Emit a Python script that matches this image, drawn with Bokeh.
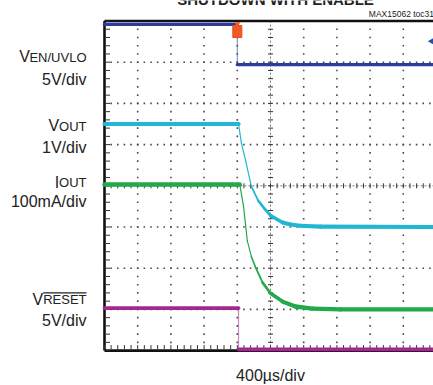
import numpy as np
from bokeh.plotting import figure
from bokeh.models import Range1d, ColumnDataSource
from bokeh.core.properties import value
from bokeh.embed import file_html
from bokeh.resources import INLINE

# ---------------- data (time in µs relative to the EN falling edge) ----------------
title = "SHUTDOWN WITH ENABLE"
doc_id = "MAX15062 toc31"
x_label = "400µs/div"

t_en = [-1600, 0, 0, 2400]
v_en = [4.9, 4.9, 0.0, 0.0]                      # V, 5V/div

t_out = [-1600, 15, 50, 100, 170, 255, 330, 400, 545, 640, 760, 1000, 2400]
v_out = [2.50, 2.50, 2.03, 1.61, 0.98, 0.63, 0.44, 0.28, 0.11, 0.06, 0.03, 0.01, 0.0]   # V, 1V/div

t_io = [-1600, 30, 75, 120, 170, 220, 305, 400, 545, 700, 905, 1245, 2400]
i_io = [0.303, 0.303, 0.250, 0.167, 0.128, 0.102, 0.065, 0.039, 0.019, 0.007, 0.002, 0.0, 0.0]  # A, 100mA/div

t_rst = [-1600, 15, 15, 2400]
v_rst = [5.0, 5.0, 0.0, 0.0]                     # V, 5V/div

main_labels = ["V", "V", "I", "V"]
sub_labels = ["EN/UVLO", "OUT", "OUT", "RESET"]
scale_labels = ["5V/div", "1V/div", "100mA/div", "5V/div"]

# ---------------- scope geometry ----------------
US_PER_DIV = 400.0
PX_X = 33.2     # px per horizontal division
PX_Y = 41.2     # px per vertical division
T_LEFT, T_RIGHT = -1600.0, 2400.0

channels = [
    dict(t=t_en, v=v_en, per_div=5.0, pos=2.94, color="#2b3c9e", thick=3.2),
    dict(t=t_out, v=v_out, per_div=1.0, pos=-1.0, color="#21b7d3", thick=4.2),
    dict(t=t_io, v=i_io, per_div=0.1, pos=-3.0, color="#22a94a", thick=4.4),
    dict(t=t_rst, v=v_rst, per_div=5.0, pos=-3.97, color="#a0288e", thick=3.6),
]

p = figure(width=433, height=385, output_backend="svg", toolbar_location=None,
           x_range=Range1d(-2853.0, 2363.8), y_range=Range1d(-4.8471, 4.4976),
           min_border=0, min_border_left=0, min_border_right=0,
           min_border_top=0, min_border_bottom=0,
           x_axis_location=None, y_axis_location=None)
p.outline_line_color = None
p.xgrid.visible = False
p.ygrid.visible = False
p.background_fill_color = "white"
p.border_fill_color = "white"

# ---------------- graticule ----------------
minor_t = T_LEFT + np.arange(0, 10.001, 0.2) * US_PER_DIV
minor_y = np.arange(-4, 4.001, 0.2)
gx, gy = [], []
for yd in [-3, -2, -1, 1, 2, 3]:
    gx += list(minor_t); gy += [yd] * len(minor_t)
for d in [1, 2, 3, 4, 6, 7, 8, 9]:
    gx += [T_LEFT + d * US_PER_DIV] * len(minor_y); gy += list(minor_y)
p.scatter(gx, gy, marker="square", size=1.6, color="#4a4a4a", line_color=None)

# centre cross with ticks
p.line([T_LEFT, T_RIGHT], [0, 0], line_color="#777777", line_width=1, line_dash="2 2")
p.line([T_LEFT + 5 * US_PER_DIV] * 2, [-4, 4], line_color="#777777", line_width=1, line_dash="2 2")
p.scatter(minor_t, [0] * len(minor_t), marker="dash", angle=np.pi / 2, size=5,
          line_color="#333333", line_width=1)
p.scatter([T_LEFT + 5 * US_PER_DIV] * len(minor_y), minor_y, marker="dash", size=5,
          line_color="#333333", line_width=1)

# border (left, top, bottom) with inward ticks
p.segment(x0=[T_LEFT, T_LEFT, T_LEFT], y0=[-4, 4, -4], x1=[T_LEFT, T_RIGHT, T_RIGHT], y1=[4, 4, -4],
          line_color="#111111", line_width=2.6)
p.scatter([T_LEFT + 3.5 / PX_X * US_PER_DIV] * len(minor_y), minor_y, marker="dash", size=4,
          line_color="#333333", line_width=1)
p.scatter(minor_t, [-4 + 3.5 / PX_Y] * len(minor_t), marker="dash", angle=np.pi / 2, size=4,
          line_color="#333333", line_width=1)

# ---------------- traces ----------------
for ch in channels:
    t = np.array(ch["t"], dtype=float)
    y = np.array(ch["v"], dtype=float) / ch["per_div"] + ch["pos"]
    dx = np.diff(t) / US_PER_DIV * PX_X
    dy = np.diff(y) * PX_Y
    L = np.hypot(dx, dy)
    cosang = np.where(L > 0, np.abs(dx) / np.where(L > 0, L, 1), 1)
    widths = np.maximum(1.2, ch["thick"] * cosang)
    alphas = np.where(cosang < 0.05, 0.55, 1.0)
    src = ColumnDataSource(dict(x0=t[:-1], y0=y[:-1], x1=t[1:], y1=y[1:], w=widths, a=alphas))
    p.segment(x0="x0", y0="y0", x1="x1", y1="y1", source=src, line_color=ch["color"],
              line_width="w", line_alpha="a", line_cap="round")

# trigger marker (orange) and channel marker (blue) at the top
p.rect(x=[0], y=[3.745], width=9, height=12, width_units="screen", height_units="screen",
       fill_color="#f05a28", line_color="#e84e1b")
p.scatter([0], [3.93], marker="inverted_triangle", size=6, fill_color="#f05a28", line_color=None)
p.scatter([2357.8], [3.51], marker="triangle", angle=np.pi / 2, size=9,
          fill_color="#2b4fa8", line_color=None)

# ---------------- texts ----------------
F = value("Liberation Sans")
TXT = "#222222"
main_x = [-2497.6, -2147.0, -2147.0, -2338.6]
main_y = [3.136, 1.461, 0.089, -2.750]
sub_y = [3.121, 1.446, 0.074, -2.765]
scale_y = [2.577, 0.939, -0.372, -3.272]
RIGHT_X = -1816.8

p.text(x=main_x, y=main_y, text=main_labels, text_font=F, text_font_size="16px",
       text_align="right", text_baseline="alphabetic", text_color=TXT)
p.text(x=[RIGHT_X] * 4, y=sub_y, text=sub_labels, text_font=F, text_font_size="13px",
       text_align="right", text_baseline="alphabetic", text_color=TXT)
p.text(x=[RIGHT_X] * 4, y=scale_y, text=scale_labels, text_font=F, text_font_size="16px",
       text_align="right", text_baseline="alphabetic", text_color=TXT)
# overline of RESET
p.segment(x0=[-2338.6], y0=[-2.597], x1=[RIGHT_X], y1=[-2.597], line_color=TXT, line_width=1.3)

p.text(x=[400], y=[-4.595], text=[x_label], text_font=F, text_font_size="16px",
       text_align="center", text_baseline="alphabetic", text_color=TXT)
p.text(x=[1584.3], y=[4.168], text=[doc_id], text_font=F, text_font_size="8.5px",
       text_align="left", text_baseline="alphabetic", text_color=TXT)
p.text(x=[460], y=[4.534], text=[title], text_font=F, text_font_size="15px",
       text_font_style="bold", text_align="center", text_baseline="alphabetic", text_color=TXT)

open("out.html", "w").write(file_html(p, INLINE))
